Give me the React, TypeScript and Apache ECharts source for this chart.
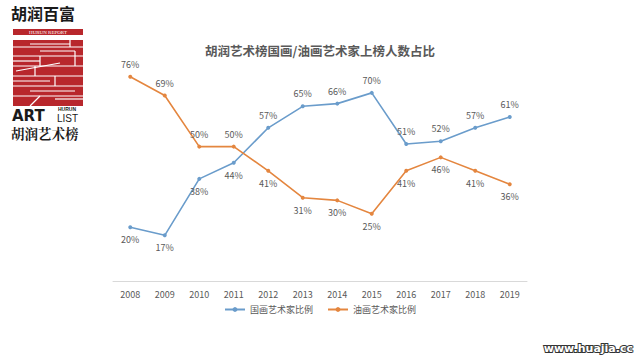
import React, { useEffect, useRef } from "react";
import * as echarts from "echarts";

const years = ["2008", "2009", "2010", "2011", "2012", "2013", "2014", "2015", "2016", "2017", "2018", "2019"];
const guohua = [20, 17, 38, 44, 57, 65, 66, 70, 51, 52, 57, 61];
const youhua = [76, 69, 50, 50, 41, 31, 30, 25, 41, 46, 41, 36];
const guohuaLabelPos = ["bottom", "bottom", "bottom", "bottom", "top", "top", "top", "top", "top", "top", "top", "top"];
const youhuaLabelPos = ["top", "top", "top", "top", "bottom", "bottom", "bottom", "bottom", "bottom", "bottom", "bottom", "bottom"];
const seriesNames = ["国画艺术家比例", "油画艺术家比例"];
const titleText = "胡润艺术榜国画/油画艺术家上榜人数占比";

const BLUE = "#6a9ccb";
const ORANGE = "#e4863f";
const RED = "#b8272c";

export default function App() {
  const ref = useRef<HTMLDivElement>(null);
  useEffect(() => {
    if (!ref.current) return;
    const chart = echarts.init(ref.current, null, { renderer: "svg" });
    const font = "'Microsoft YaHei', 'Noto Sans CJK SC', sans-serif";
    const redLines: any[] = [];
    const hy = [47, 56, 66, 76, 86, 96];
    hy.forEach((y) => {
      redLines.push({ type: "line", shape: { x1: 13, y1: y, x2: 83, y2: y }, style: { stroke: "#fff", lineWidth: 1.2 } });
    });
    const extra = [
      [30, 44, 70, 44], [70, 40, 70, 47], [40, 51, 75, 51], [75, 51, 75, 66], [13, 61, 40, 61],
      [40, 56, 40, 66], [16, 71, 60, 63], [35, 66, 35, 76], [55, 76, 55, 86], [13, 81, 50, 81],
      [30, 91, 75, 91], [40, 96, 30, 106], [55, 99, 83, 99]
    ];
    extra.forEach(([x1, y1, x2, y2]) => {
      redLines.push({ type: "line", shape: { x1, y1, x2, y2 }, style: { stroke: "#fff", lineWidth: 1.2 } });
    });
    chart.setOption({
      animation: false,
      backgroundColor: "#ffffff",
      title: {
        text: titleText,
        left: "center",
        top: 39,
        textStyle: { fontSize: 12.5, fontWeight: "bold", color: "#595959", fontFamily: font }
      },
      legend: {
        data: seriesNames,
        bottom: 39,
        left: "center",
        itemWidth: 20,
        itemHeight: 6,
        itemGap: 14,
        textStyle: { fontSize: 9, color: "#595959", fontFamily: font }
      },
      grid: { left: 113, right: 113, top: 66, bottom: 77 },
      xAxis: {
        type: "category",
        data: years,
        boundaryGap: true,
        axisLine: { lineStyle: { color: "#d9d9d9" } },
        axisTick: { show: false },
        axisLabel: { fontSize: 9, color: "#595959", margin: 9, fontFamily: font }
      },
      yAxis: {
        type: "value",
        min: 0,
        max: 80,
        show: false,
        splitLine: { show: false }
      },
      series: [
        {
          name: seriesNames[0],
          type: "line",
          data: guohua.map((v, i) => ({ value: v, label: { position: guohuaLabelPos[i] } })),
          symbol: "circle",
          symbolSize: 4,
          lineStyle: { color: BLUE, width: 1.6 },
          itemStyle: { color: BLUE },
          label: { show: true, formatter: "{c}%", fontSize: 9, color: "#595959", distance: 6, fontFamily: font }
        },
        {
          name: seriesNames[1],
          type: "line",
          data: youhua.map((v, i) => ({ value: v, label: { position: youhuaLabelPos[i] } })),
          symbol: "circle",
          symbolSize: 4,
          lineStyle: { color: ORANGE, width: 1.6 },
          itemStyle: { color: ORANGE },
          label: { show: true, formatter: "{c}%", fontSize: 9, color: "#595959", distance: 6, fontFamily: font }
        }
      ],
      graphic: [
        { type: "text", left: 11, top: 5, style: { text: "胡润百富", fontSize: 16, fontWeight: "bold", fill: "#1a1a1a", fontFamily: font } },
        { type: "rect", shape: { x: 13, y: 29, width: 70, height: 6 }, style: { fill: RED } },
        { type: "text", x: 48, y: 32, style: { text: "HURUN REPORT", fontSize: 5, fill: "#fff", align: "center", verticalAlign: "middle", fontFamily: "serif" } },
        { type: "rect", shape: { x: 13, y: 40, width: 70, height: 66 }, style: { fill: RED } },
        ...redLines,
        { type: "text", x: 12, y: 108, style: { text: "ART", fontSize: 15, lineHeight: 15, fontWeight: 900, fill: "#1a1a1a", fontFamily: "'DejaVu Sans', sans-serif" } },
        { type: "text", x: 58, y: 106, style: { text: "HURUN", fontSize: 5, lineHeight: 5, fontWeight: "bold", fill: "#1a1a1a", fontFamily: "'Liberation Sans', sans-serif" } },
        { type: "text", x: 57, y: 113, style: { text: "LIST", fontSize: 10, lineHeight: 10, fill: "#1a1a1a", fontFamily: "'Liberation Sans', sans-serif" } },
        { type: "text", x: 11, y: 126, style: { text: "胡润艺术榜", fontSize: 13.5, lineHeight: 14, fontWeight: "bold", fill: "#1a1a1a", fontFamily: "'Noto Serif CJK SC', 'Noto Sans CJK SC', serif" } },
        {
          type: "text", right: 6, bottom: 3,
          style: {
            text: "www.huajia.cc", fontSize: 11, fontWeight: "bold", fill: "#ffffff",
            stroke: "#333", lineWidth: 2, fontFamily: "'DejaVu Sans', sans-serif"
          }
        }
      ]
    });
    return () => chart.dispose();
  }, []);
  return <div ref={ref} style={{ position: "fixed", left: 0, top: 0, width: 640, height: 358 }} />;
}
